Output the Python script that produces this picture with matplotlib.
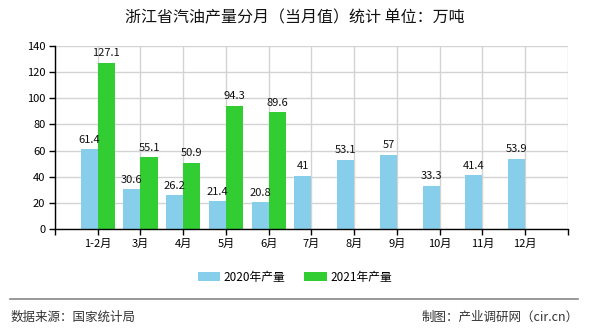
import matplotlib
matplotlib.use("Agg")
import matplotlib.pyplot as plt
import numpy as np

plt.rcParams['font.family'] = ['Noto Sans CJK SC', 'DejaVu Sans']

months = ['1-2月', '3月', '4月', '5月', '6月', '7月', '8月', '9月', '10月', '11月', '12月']
output_2020 = [61.4, 30.6, 26.2, 21.4, 20.8, 41, 53.1, 57, 33.3, 41.4, 53.9]
output_2021 = [127.1, 55.1, 50.9, 94.3, 89.6]
value_text_2020 = ['61.4', '30.6', '26.2', '21.4', '20.8', '41', '53.1', '57', '33.3', '41.4', '53.9']
value_text_2021 = ['127.1', '55.1', '50.9', '94.3', '89.6']

fig = plt.figure(figsize=(5.9, 3.3), dpi=100)
ax = fig.add_axes([0.0932, 0.3051, 0.8695, 0.5565])

x = np.arange(len(months))
w = 0.4
b1 = ax.bar(x - w / 2, output_2020, w, color='#87CEEB', label='2020年产量', zorder=2)
b2 = ax.bar(x[:len(output_2021)] + w / 2, output_2021, w, color='#32CD32', label='2021年产量', zorder=2)

for rect, txt in zip(b1, value_text_2020):
    ax.annotate(txt, (rect.get_x() + rect.get_width() / 2, rect.get_height()),
                xytext=(0, 3), textcoords='offset points', ha='center', va='bottom',
                fontsize=8, color='#111111')
for rect, txt in zip(b2, value_text_2021):
    ax.annotate(txt, (rect.get_x() + rect.get_width() / 2, rect.get_height()),
                xytext=(0, 3), textcoords='offset points', ha='center', va='bottom',
                fontsize=8, color='#111111')

ax.set_xlim(-1, 11)
ax.set_ylim(0, 140)
ax.set_yticks(range(0, 141, 20))
ax.set_xticks(x)
ax.set_xticklabels(months)
ax.set_xticks([-1, 11], minor=True)
ax.tick_params(axis='both', which='both', direction='out', length=4, width=1,
               colors='black', labelsize=8, pad=3)

ax.grid(True, which='both', color='#d3d3d3', linewidth=1, zorder=0)
ax.set_axisbelow(True)
for s in ['top', 'right']:
    ax.spines[s].set_visible(False)
for s in ['left', 'bottom']:
    ax.spines[s].set_color('black')
    ax.spines[s].set_linewidth(1)

fig.text(0.5, 0.945, '浙江省汽油产量分月（当月值）统计 单位：万吨', ha='center', va='center',
         fontsize=11.5, color='#111111')

fig.legend(handles=[b1, b2], loc='center', bbox_to_anchor=(0.5, 0.16), ncol=2,
           frameon=False, fontsize=8.5, handlelength=1.9, handleheight=0.8,
           handletextpad=0.3, columnspacing=1.6)

fig.add_artist(plt.Line2D([0.017, 0.98], [0.095, 0.095], color='#888888', linewidth=1.2))
fig.text(0.017, 0.04, '数据来源：国家统计局', ha='left', va='center', fontsize=9, color='#333333')
fig.text(0.98, 0.04, '制图：产业调研网（cir.cn）', ha='right', va='center', fontsize=9, color='#333333')

fig.savefig('out.png', dpi=100)
